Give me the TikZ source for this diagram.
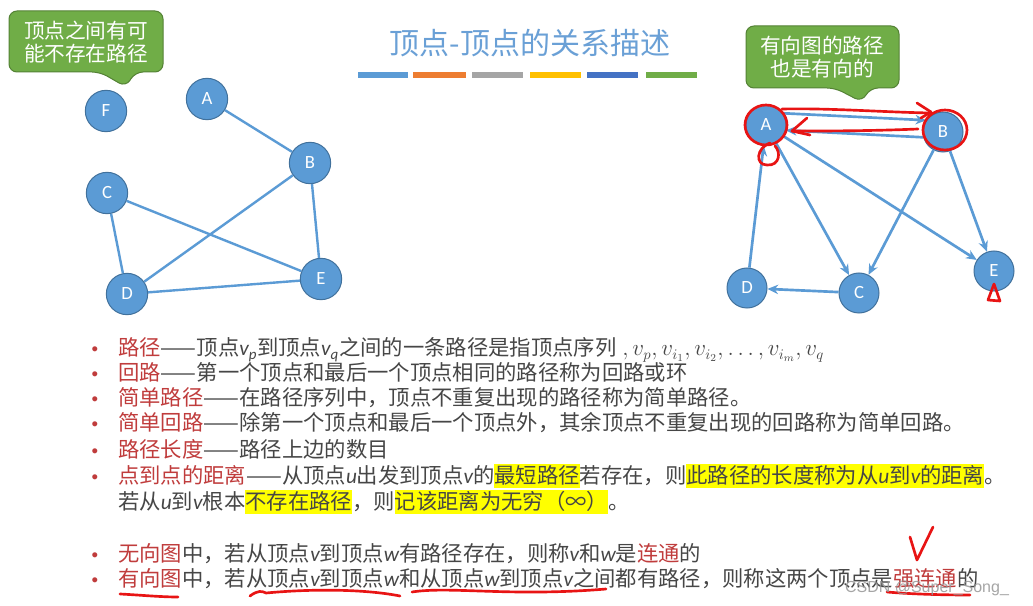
\documentclass[tikz,border=0pt]{standalone}
\usepackage{fontspec}
\setmainfont{Noto Sans CJK SC}
\newfontfamily\latf{Carlito}
\newfontfamily\wmfont{Liberation Sans}
\usetikzlibrary{arrows.meta}
\definecolor{nodeblue}{RGB}{91,155,213}
\definecolor{nodeborder}{RGB}{65,113,156}
\definecolor{titleblue}{RGB}{106,160,214}
\definecolor{barblue}{RGB}{91,155,213}
\definecolor{barorange}{RGB}{237,125,49}
\definecolor{bargray}{RGB}{165,165,165}
\definecolor{baryellow}{RGB}{255,192,0}
\definecolor{bardblue}{RGB}{68,114,196}
\definecolor{bargreen}{RGB}{112,173,71}
\definecolor{calloutgreen}{RGB}{112,173,71}
\definecolor{calloutborder}{RGB}{84,130,53}
\definecolor{bodygray}{RGB}{70,70,70}
\definecolor{termred}{RGB}{192,60,60}
\definecolor{hlyellow}{RGB}{255,255,0}
\definecolor{inkred}{RGB}{232,20,20}
\definecolor{wmgray}{RGB}{150,150,150}
\newcommand\iv[1]{{\latf\itshape #1}}
\newcommand\term[1]{\textcolor{termred}{#1}}
\newcommand\hlt[1]{{\setlength{\fboxsep}{0pt}\colorbox{hlyellow}{\rule[-3.75pt]{0pt}{18pt}#1}}}
\tikzset{
  gnode/.style={circle, fill=nodeblue, draw=nodeborder, line width=0.75pt, minimum size=31pt, inner sep=0pt, text=white, font=\latf\fontsize{14}{14}\selectfont},
  uedge/.style={draw=nodeblue, line width=1.8pt},
  dedge/.style={draw=nodeblue, line width=2pt, -{Stealth[length=8pt,width=7pt]}},
  body/.style={anchor=base west, inner sep=0pt, text=bodygray, font=\fontsize{16}{19}\selectfont},
  bullet/.style={anchor=base, inner sep=0pt, text=termred, font=\wmfont\fontsize{14}{14}\selectfont},
  callout/.style={fill=calloutgreen, draw=calloutborder, line width=0.75pt, rounded corners=6pt},
  callouttext/.style={align=center, text=white, inner sep=0pt, font=\fontsize{15.5}{17}\selectfont},
  ink/.style={draw=inkred, line width=2pt, line cap=round, line join=round}
}
\begin{document}
\begin{tikzpicture}[x=0.75pt,y=-0.75pt]
\useasboundingbox (0,0) rectangle (1033,606);
\fill[white] (0,0) rectangle (1033,606);

% title and colour bars
\node[text=titleblue, font=\fontsize{22.5}{22.5}\selectfont] (title) at (530,43) {顶点-顶点的关系描述};
\fill[barblue]   (358,72) rectangle (408,78);
\fill[barorange] (413,72) rectangle (466,78);
\fill[bargray]   (472,72) rectangle (523,78);
\fill[baryellow] (530,72) rectangle (581,78);
\fill[bardblue]  (587,72) rectangle (638,78);
\fill[bargreen]  (646,72) rectangle (697,78);

% left callout
\path[callout] (9,11) -- (163,11) -- (163,72) -- (135,72) -- (126,87) -- (100,72) -- (9,72) -- cycle;
\node[callouttext] (lcall) at (86,42) {顶点之间有可\\能不存在路径};

% left undirected graph
\node[gnode] (F) at (106,111) {F};
\node[gnode] (A) at (207,99) {A};
\node[gnode] (B) at (310,163) {B};
\node[gnode] (C) at (107,193) {C};
\node[gnode] (D) at (127,294) {D};
\node[gnode] (E) at (321,279) {E};
\draw[uedge] (A) -- (B);
\draw[uedge] (B) -- (D);
\draw[uedge] (B) -- (E);
\draw[uedge] (C) -- (D);
\draw[uedge] (C) -- (E);
\draw[uedge] (D) -- (E);

% right callout
\path[callout] (746,26) -- (899,26) -- (899,88) -- (870,88) -- (862,102) -- (835,88) -- (746,88) -- cycle;
\node[callouttext] (rcall) at (822,57) {有向图的路径\\也是有向的};

% right directed graph
\node[gnode,minimum size=30pt] (dA) at (766,125) {A};
\node[gnode,minimum size=30pt] (dB) at (943,132) {B};
\node[gnode,minimum size=30pt] (dC) at (859,293) {C};
\node[gnode,minimum size=30pt] (dD) at (747,288) {D};
\node[gnode,minimum size=30pt] (dE) at (994,271) {E};
\draw[dedge] (dA.35) -- (dB.145);
\draw[dedge] (dB.195) -- (dA.-15);
\draw[dedge] (dA) -- (dC);
\draw[dedge] (dA) -- (dE);
\draw[dedge] (dB) -- (dC);
\draw[dedge] (dB) -- (dE);
\draw[dedge] (dC) -- (dD);
\draw[dedge] (dD) -- (dA);

% red handwriting on the directed graph
\draw[ink] (dA) ellipse [x radius=21, y radius=20];
\draw[ink] (945,130) ellipse [x radius=22, y radius=20];
\draw[ink] (782,109) .. controls (830,108) and (880,112) .. (930,113);
\draw[ink] (917,103) -- (931,112) -- (921,118);
\draw[ink] (918,129) .. controls (870,131) and (830,131) .. (792,131);
\draw[ink] (807,118) -- (792,131) -- (810,135);
\draw[ink] (770,143) .. controls (756,148) and (755,165) .. (767,165) .. controls (780,166) and (781,152) .. (775,146);
\draw[ink] (994,284) -- (988,300) -- (1000,301) -- cycle;

% text block
\node[bullet] (b1) at (95,356) {•};
\node[body] (l1) at (118,356) {\term{路径}——顶点\iv{v}\textsubscript{\iv{p}}到顶点\iv{v}\textsubscript{\iv{q}}之间的一条路径是指顶点序列\;$,v_p,v_{i_1},v_{i_2},\ldots,v_{i_m},v_q$};
\node[bullet] (b2) at (95,381) {•};
\node[body] (l2) at (118,381) {\term{回路}——第一个顶点和最后一个顶点相同的路径称为回路或环};
\node[bullet] (b3) at (95,406) {•};
\node[body] (l3) at (118,406) {\term{简单路径}——在路径序列中，顶点不重复出现的路径称为简单路径。};
\node[bullet] (b4) at (95,431) {•};
\node[body] (l4) at (118,431) {\term{简单回路}——除第一个顶点和最后一个顶点外，其余顶点不重复出现的回路称为简单回路。};
\node[bullet] (b5) at (95,457) {•};
\node[body] (l5) at (118,457) {\term{路径长度}——路径上边的数目};
\node[bullet] (b6) at (95,483) {•};
\node[body] (l6) at (118,483) {\term{点到点的距离}——从顶点\iv{u}出发到顶点\iv{v}的\hlt{最短路径}若存在，则\hlt{此路径的长度称为从\iv{u}到\iv{v}的距离}。};
\node[body] (l7) at (118,509) {若从\iv{u}到\iv{v}根本\hlt{不存在路径}，则\hlt{记该距离为无穷（∞）}。};
\node[bullet] (b8) at (95,561) {•};
\node[body] (l8) at (118,561) {\term{无向图}中，若从顶点\iv{v}到顶点\iv{w}有路径存在，则称\iv{v}和\iv{w}是\term{连通}的};
\node[bullet] (b9) at (95,586) {•};
\node[body] (l9) at (118,586) {\term{有向图}中，若从顶点\iv{v}到顶点\iv{w}和从顶点\iv{w}到顶点\iv{v}之间都有路径，则称这两个顶点是\term{强连通}的};

% red underlines and check mark
\draw[ink] (120,594) .. controls (140,595) and (160,597) .. (178,597);
\draw[ink] (250,596) .. controls (258,590) and (262,591) .. (266,593) .. controls (320,588) and (370,590) .. (400,596);
\draw[ink] (412,592) .. controls (450,586) and (510,597) .. (606,589);
\draw[ink] (887,592) .. controls (910,594) and (940,595) .. (970,595);
\draw[ink] (910,537) -- (917,560) -- (933,527);

% watermark
\node[text=wmgray, font=\wmfont\fontsize{12}{12}\selectfont, inner sep=0pt, opacity=0.85] (wm) at (927,588) {CSDN @Super\_Song\_};
\end{tikzpicture}
\end{document}
